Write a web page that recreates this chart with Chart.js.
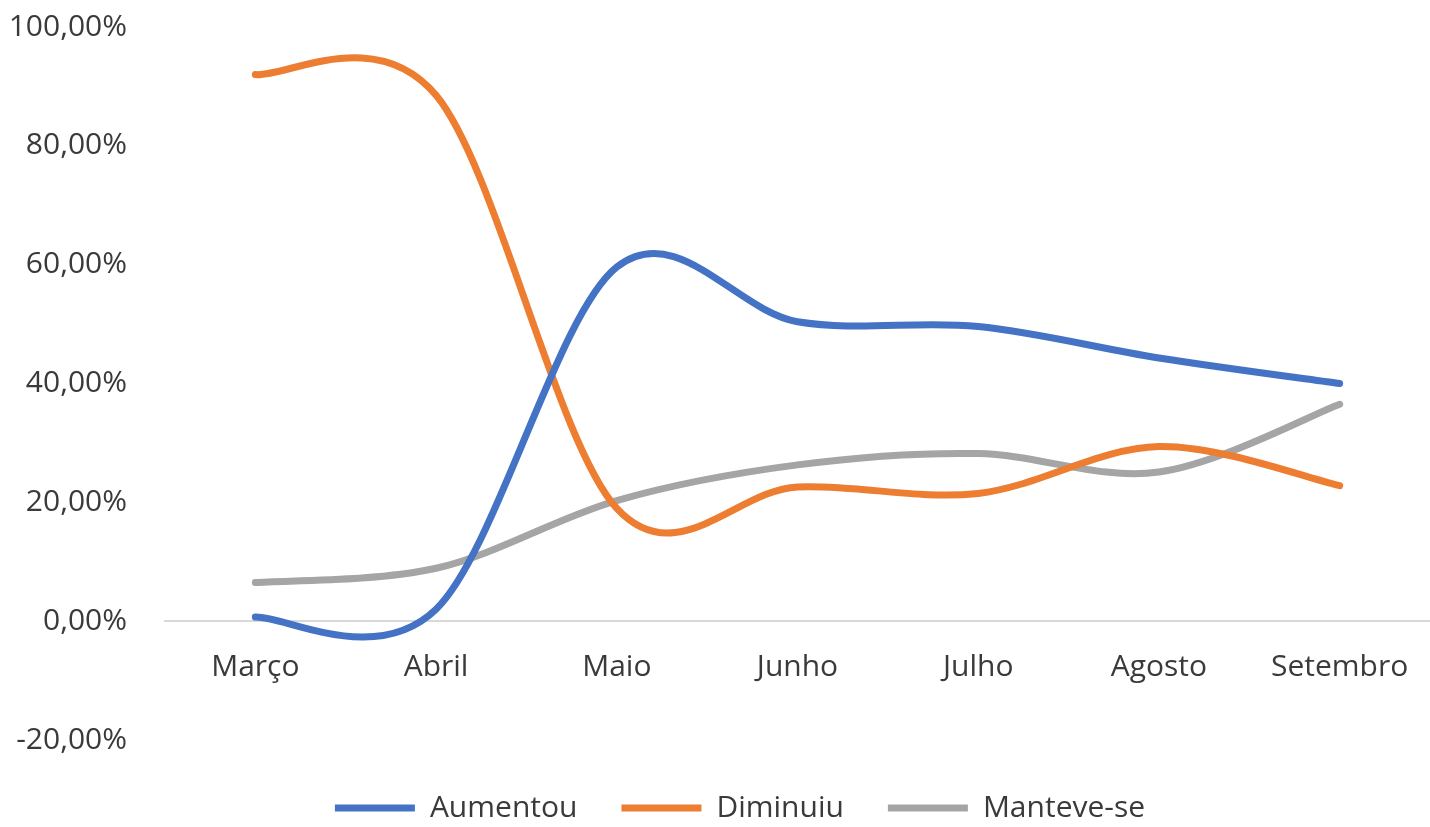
<!DOCTYPE html>
<html>
<head>
<meta charset="utf-8">
<script src="https://cdn.jsdelivr.net/npm/chart.js@4.4.0/dist/chart.umd.min.js"></script>
<style>
  html, body { margin: 0; padding: 0; background: #ffffff; }
  #wrap { width: 1430px; height: 827px; }
</style>
</head>
<body>
<div id="wrap"><canvas id="c" width="1430" height="827"></canvas></div>
<script>
const categories = ['Março', 'Abril', 'Maio', 'Junho', 'Julho', 'Agosto', 'Setembro'];
const aumentou   = [0.7, 2.0, 59.6, 50.4, 49.6, 44.3, 40.0];
const diminuiu   = [92.0, 88.5, 19.0, 22.6, 21.5, 29.4, 22.8];
const manteveSe  = [6.5, 8.9, 20.3, 26.3, 28.2, 25.1, 36.5];
const seriesNames  = ['Aumentou', 'Diminuiu', 'Manteve-se'];
const seriesColors = ['#4472C4', '#ED7D31', '#A5A5A5'];
const yTickValues  = [-20, 0, 20, 40, 60, 80, 100];

const textColor = '#3a3a3a';
const font = { family: "'Open Sans', 'Noto Sans', sans-serif", size: 30 };

// Excel-like smoothing: Catmull-Rom control points from the library's own point positions
const excelSmoothing = {
  id: 'excelSmoothing',
  afterLayout(chart) {
    // let the y tick labels use the left margin instead of being clipped to the axis box
    if (chart.scales.y) chart.scales.y.left = 0;
  },
  beforeDatasetDraw(chart, args) {
    const line = args.meta.dataset;
    if (!line) return;
    line.updateControlPoints(chart.chartArea, 'x');
    const pts = line.points;
    const n = pts.length;
    for (let i = 0; i < n; i++) {
      const p = pts[i];
      const a = pts[Math.max(i - 1, 0)];
      const b = pts[Math.min(i + 1, n - 1)];
      const tx = (b.x - a.x) / 6, ty = (b.y - a.y) / 6;
      p.cp1x = p.x - tx; p.cp1y = p.y - ty;
      p.cp2x = p.x + tx; p.cp2y = p.y + ty;
    }
    line._path = undefined;
  }
};

const seriesData = [aumentou, diminuiu, manteveSe];
const datasets = seriesNames.map((name, i) => ({
  label: name,
  data: seriesData[i],
  borderColor: seriesColors[i],
  backgroundColor: seriesColors[i],
  borderWidth: 7,
  borderCapStyle: 'round',
  borderJoinStyle: 'round',
  pointRadius: 0,
  pointHoverRadius: 0,
  tension: 0.4,
  fill: false,
  xAxisID: 'x',
  yAxisID: 'y'
}));

new Chart(document.getElementById('c'), {
  type: 'line',
  data: { labels: categories, datasets },
  plugins: [excelSmoothing],
  options: {
    responsive: false,
    animation: false,
    devicePixelRatio: 1,
    layout: { padding: { left: 50, right: 0, top: 27, bottom: -6 } },
    plugins: {
      legend: {
        position: 'bottom',
        labels: {
          usePointStyle: true,
          pointStyleWidth: 80,
          pointStyle: 'line',
          boxHeight: 7,
          padding: 44,
          color: textColor,
          font: font
        }
      },
      tooltip: { enabled: false }
    },
    scales: {
      x: {
        axis: 'x',
        type: 'category',
        position: { y: 0 },
        offset: true,
        grid: { display: false },
        border: { display: true, color: '#d9d9d9', width: 2 },
        ticks: { color: textColor, font: font, padding: 20, maxRotation: 0, autoSkip: false }
      },
      xs: {
        axis: 'x',
        type: 'category',
        position: 'bottom',
        display: true,
        grid: { display: false },
        border: { display: false },
        ticks: { display: false },
        afterFit(scale) { scale.height = 9; }
      },
      y: {
        min: -20,
        max: 100,
        grid: { display: false },
        border: { display: false },
        afterBuildTicks(scale) { scale.ticks = yTickValues.map(v => ({ value: v })); },
        afterFit(scale) {
          scale.width = 115;
          scale.paddingTop = 0;
          scale.paddingBottom = 0;
        },
        ticks: {
          color: textColor,
          font: font,
          padding: 30,
          callback: (v) => Number(v).toFixed(2).replace('.', ',') + '%'
        }
      }
    }
  }
});
</script>
</body>
</html>
